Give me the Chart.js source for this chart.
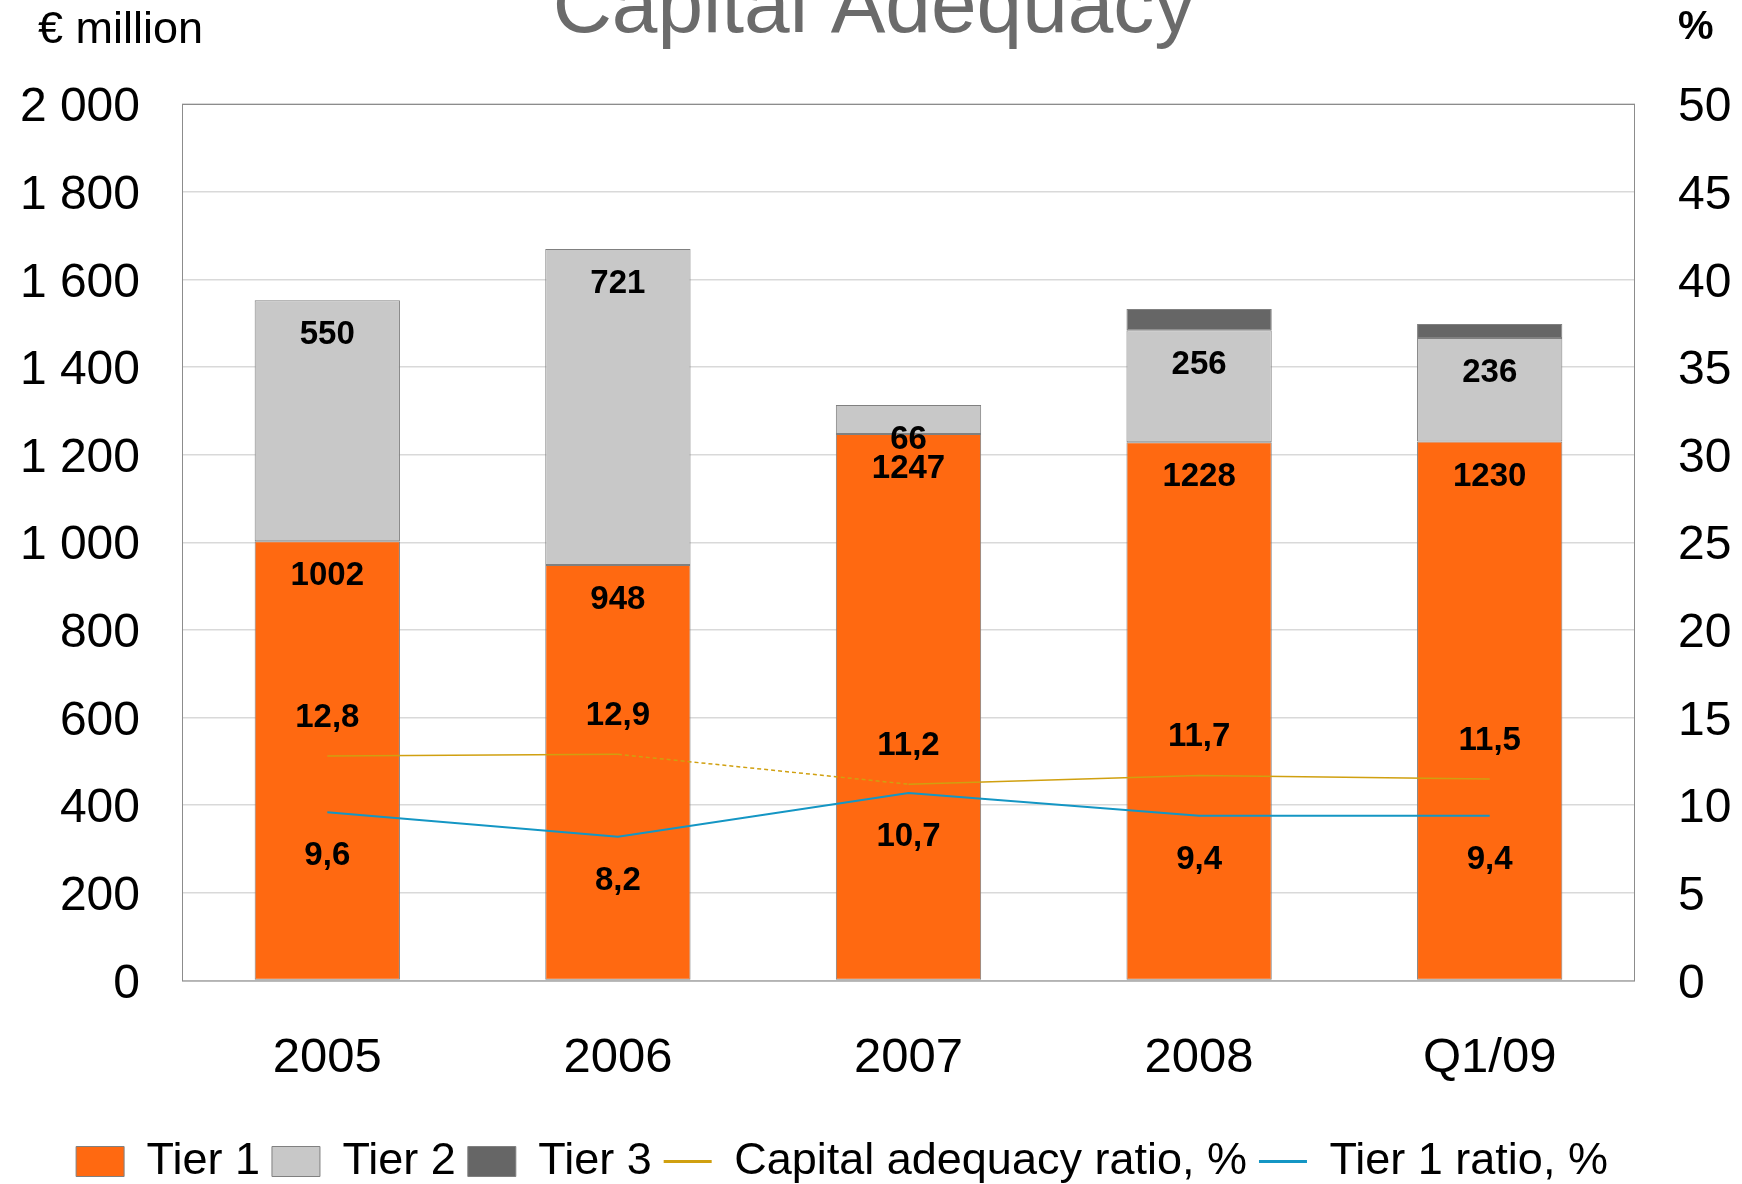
<!DOCTYPE html>
<html>
<head>
<meta charset="utf-8">
<script src="https://cdn.jsdelivr.net/npm/chart.js@4"></script>
<style>
  html, body { margin: 0; padding: 0; background: #fff; }
  #wrap { width: 1742px; height: 1184px; }
</style>
</head>
<body>
<div id="wrap"><canvas id="chart"></canvas></div>
<script>
const categories = ["2005", "2006", "2007", "2008", "Q1/09"];
const tier1 = [1002, 948, 1247, 1228, 1230];
const tier2 = [550, 721, 66, 256, 236];
const tier3 = [null, null, null, 48, 32];
const capitalRatio = [12.8, 12.9, 11.2, 11.7, 11.5];
const tier1Ratio = [9.6, 8.2, 10.7, 9.4, 9.4];
const leftTicks = { min: 0, max: 2000, step: 200 };
const rightTicks = { min: 0, max: 50, step: 5 };

const FONT = "'Liberation Sans', Arial, sans-serif";
Chart.defaults.font.family = FONT;
Chart.defaults.color = "#000";

// frame, value labels and headings
const decorations = {
  id: "decorations",
  afterLayout(chart) {
    // legend sits a bit left of centre in the original
    chart.legend.left -= 29;
    chart.legend.right -= 29;
  },
  beforeDatasetsDraw(chart) {
    const { ctx, chartArea: a } = chart;
    ctx.save();
    ctx.strokeStyle = "#8c8c8c";
    ctx.lineWidth = 1;
    ctx.strokeRect(a.left + 0.5, a.top + 0.5, a.right - a.left - 1, a.bottom - a.top);
    ctx.restore();
  },
  afterDatasetsDraw(chart) {
    const ctx = chart.ctx;
    ctx.save();
    ctx.font = "bold 33px " + FONT;
    ctx.fillStyle = "#000";
    ctx.textAlign = "center";
    ctx.textBaseline = "middle";
    [0, 1].forEach((di) => {
      chart.getDatasetMeta(di).data.forEach((bar, i) => {
        ctx.fillText(String(chart.data.datasets[di].data[i]), bar.x, bar.y + 35);
      });
    });
    [[3, -38], [4, 44]].forEach(([di, dy]) => {
      chart.getDatasetMeta(di).data.forEach((pt, i) => {
        const txt = chart.data.datasets[di].data[i].toFixed(1).replace(".", ",");
        ctx.fillText(txt, pt.x, pt.y + dy);
      });
    });
    ctx.restore();
  },
  afterDraw(chart) {
    const ctx = chart.ctx;
    ctx.save();
    ctx.textBaseline = "alphabetic";
    ctx.textAlign = "center";
    ctx.fillStyle = "#6b6b6b";
    ctx.font = "82px " + FONT;
    ctx.fillText("Capital Adequacy", 874, 32);
    ctx.textAlign = "left";
    ctx.fillStyle = "#000";
    ctx.font = "45px " + FONT;
    ctx.fillText("€ million", 38, 43);
    ctx.font = "bold 40px " + FONT;
    ctx.fillText("%", 1678, 39);
    ctx.restore();
  }
};

new Chart(document.getElementById("chart"), {
  type: "bar",
  data: {
    labels: categories,
    datasets: [
      { label: "Tier 1", data: tier1, backgroundColor: "#ff6911", borderColor: "#808080", borderWidth: 1, borderSkipped: false, yAxisID: "y", order: 1 },
      { label: "Tier 2", data: tier2, backgroundColor: "#c8c8c8", borderColor: "#808080", borderWidth: 1, borderSkipped: false, yAxisID: "y", order: 1 },
      { label: "Tier 3", data: tier3, backgroundColor: "#666666", borderColor: "#808080", borderWidth: 1, borderSkipped: false, yAxisID: "y", order: 1 },
      {
        type: "line", label: "Capital adequacy ratio, %", data: capitalRatio, yAxisID: "y1", order: 0,
        borderColor: "#d0a010", borderWidth: 1.5, pointRadius: 0, tension: 0,
        segment: { borderDash: (c) => (c.p0DataIndex === 1 ? [4, 3] : undefined) }
      },
      {
        type: "line", label: "Tier 1 ratio, %", data: tier1Ratio, yAxisID: "y1", order: 0,
        borderColor: "#1496c4", borderWidth: 2, pointRadius: 0, tension: 0
      }
    ]
  },
  options: {
    responsive: true,
    maintainAspectRatio: false,
    animation: false,
    datasets: { bar: { barPercentage: 0.5, categoryPercentage: 1 } },
    layout: { padding: { top: 104, bottom: -10, left: 0, right: 0 } },
    plugins: {
      title: { display: false },
      tooltip: { enabled: false },
      legend: {
        position: "bottom",
        labels: {
          font: { size: 45 },
          color: "#000",
          usePointStyle: true,
          pointStyleWidth: 48,
          boxHeight: 30,
          padding: 12,
          sort: (a, b) => a.datasetIndex - b.datasetIndex,
          generateLabels(chart) {
            const items = Chart.defaults.plugins.legend.labels.generateLabels(chart);
            items.forEach((it) => {
              const ds = chart.data.datasets[it.datasetIndex];
              if (ds.type === "line") {
                it.pointStyle = "line";
                it.lineWidth = 3;
                it.strokeStyle = ds.borderColor;
                it.lineDash = [];
              } else {
                it.pointStyle = "rect";
                it.lineWidth = 1;
              }
            });
            return items;
          }
        }
      }
    },
    scales: {
      x: {
        stacked: true,
        grid: { display: false },
        border: { display: false },
        ticks: { font: { size: 49 }, padding: 41 },
        afterFit: (s) => { s.height = 146.5; }
      },
      y: {
        stacked: true,
        position: "left",
        min: leftTicks.min, max: leftTicks.max,
        grid: { color: "#d9d9d9", lineWidth: 1.5, drawTicks: false },
        border: { display: false },
        ticks: {
          stepSize: leftTicks.step, font: { size: 48 }, padding: 42, labelOffset: 4,
          callback: (v) => (v >= 1000 ? Math.floor(v / 1000) + " " + String(v % 1000).padStart(3, "0") : String(v))
        },
        afterFit: (s) => { s.width = 182; }
      },
      y1: {
        position: "right",
        min: rightTicks.min, max: rightTicks.max,
        grid: { display: false, drawTicks: false },
        border: { display: false },
        ticks: { stepSize: rightTicks.step, font: { size: 48 }, padding: 43, labelOffset: 4 },
        afterFit: (s) => { s.width = 107; }
      }
    }
  },
  plugins: [decorations]
});
</script>
</body>
</html>
